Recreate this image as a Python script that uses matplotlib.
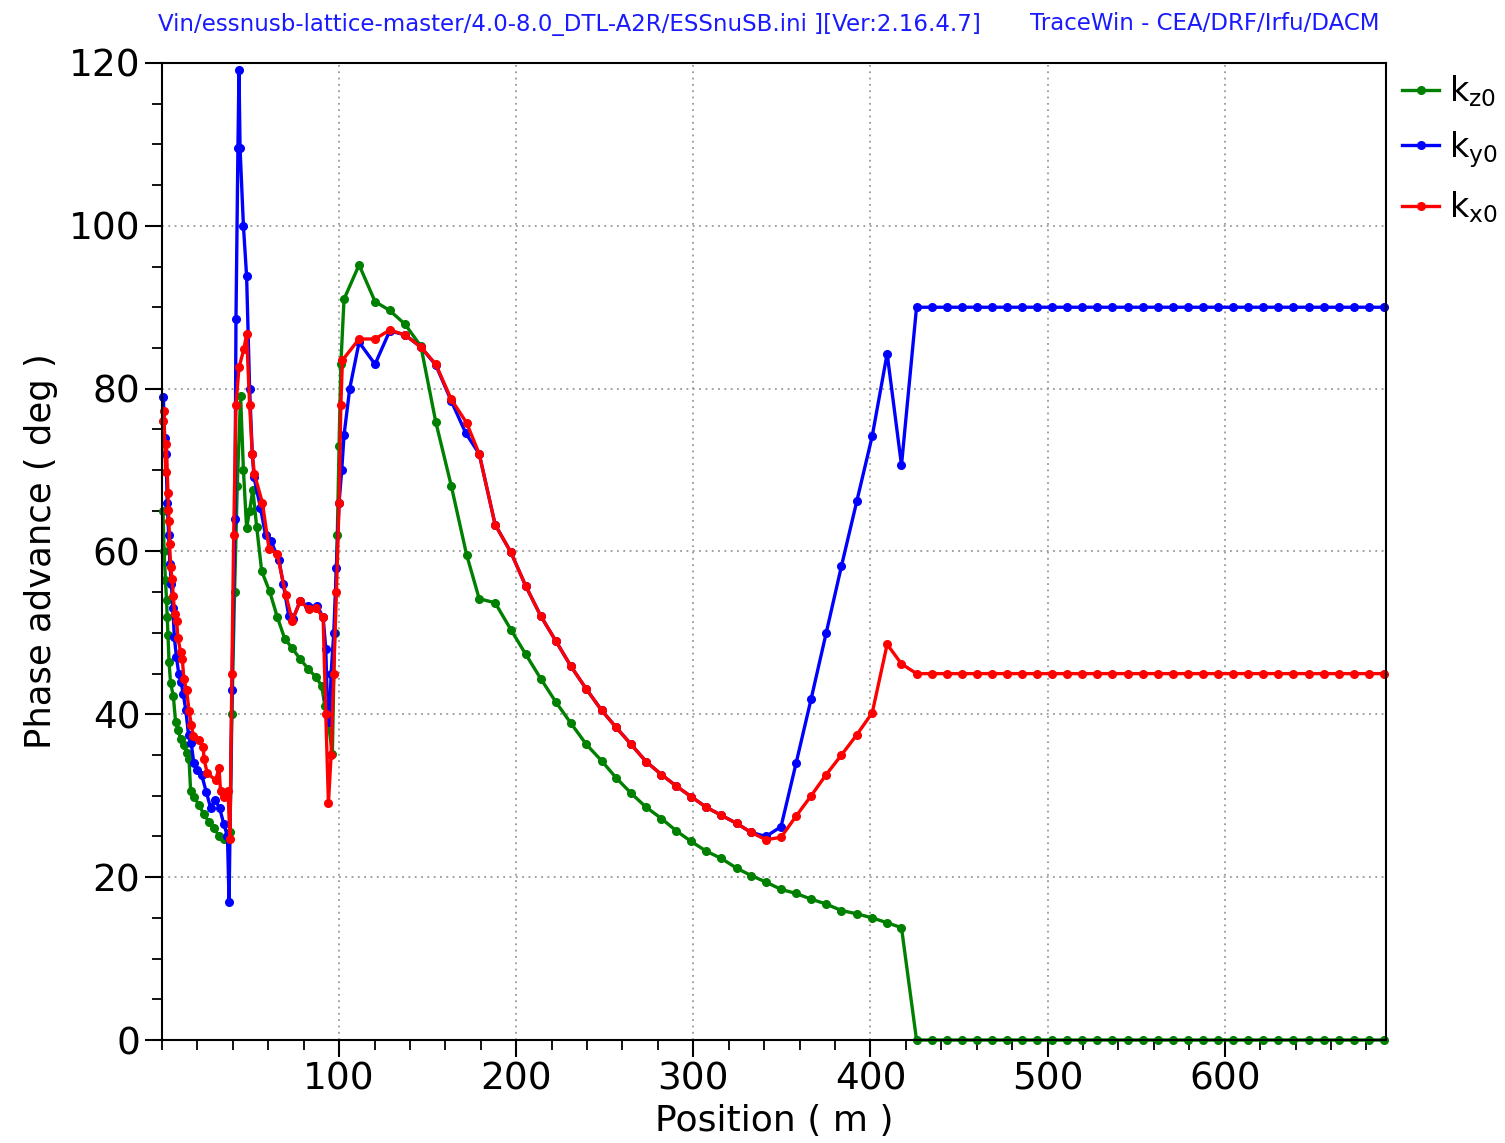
import matplotlib.pyplot as plt
from matplotlib.ticker import MultipleLocator, FixedLocator

# positions (m) shared by the three curves after ~197 m
x_desc = [197.0, 205.3, 213.8, 222.4, 230.9, 239.6, 248.2, 256.4, 264.9, 273.3,
          282.0, 290.3, 298.7, 307.2, 315.8, 324.5, 332.6, 341.0, 349.5, 358.0,
          366.5, 375.0, 383.6, 392.3, 401.0, 409.4, 417.5]
x_tail = [426.0, 434.5, 443.0, 451.5, 460.0, 468.5, 477.1, 485.6, 494.1, 502.6,
          511.1, 519.6, 528.1, 536.6, 545.1, 553.7, 562.2, 570.7, 579.2, 587.7,
          596.2, 604.7, 613.2, 621.7, 630.3, 638.8, 647.3, 655.8, 664.3, 672.8,
          681.3, 689.8]

# kz0 (green)
x_kz_head = [0.6, 1.2, 2.0, 2.6, 3.0, 3.4, 4.0, 4.9, 6.4, 7.7, 9.0, 10.5, 12.4,
             13.9, 15.3, 16.2, 18.1, 20.9, 23.7, 26.6, 29.4, 32.2, 35.0, 38.4,
             39.5, 41.0, 42.5, 44.4, 46.0, 47.8, 49.5, 51.3, 53.5, 56.3, 60.8,
             65.2, 69.3, 73.6, 78.0, 82.5, 86.8, 90.2, 92.0, 93.5, 96.2, 97.5,
             99.0, 100.0, 101.0, 102.8, 111.3, 120.3, 128.6, 137.3, 146.2, 154.6,
             163.3, 172.0, 179.1, 188.1]
y_kz_head = [65.0, 60.0, 56.5, 54.0, 51.9, 49.8, 46.4, 43.8, 42.3, 39.1, 38.1,
             37.0, 36.2, 35.3, 34.5, 30.6, 29.8, 28.9, 27.7, 26.8, 26.0, 25.1,
             24.7, 25.5, 40.0, 55.0, 68.0, 79.1, 70.0, 62.9, 65.0, 67.6, 63.0,
             57.6, 55.1, 51.9, 49.3, 48.1, 46.8, 45.6, 44.6, 43.5, 41.0, 39.8,
             35.1, 50.0, 62.0, 73.0, 83.0, 91.0, 95.2, 90.7, 89.6, 87.9, 85.2,
             75.9, 68.1, 59.6, 54.2, 53.7]
y_kz_desc = [50.4, 47.4, 44.4, 41.5, 38.9, 36.3, 34.3, 32.2, 30.3, 28.6, 27.2,
             25.7, 24.4, 23.2, 22.3, 21.1, 20.2, 19.4, 18.5, 18.0, 17.3, 16.7,
             15.9, 15.5, 15.0, 14.4, 13.8]
kz_tail = 0.0

# ky0 (blue)
x_ky_head = [0.8, 1.5, 2.3, 3.0, 3.8, 4.5, 5.3, 6.2, 7.0, 8.2, 9.5, 10.8, 12.0,
             13.5, 15.0, 16.5, 18.0, 20.0, 22.5, 25.0, 27.5, 30.0, 32.5, 35.0,
             37.0, 37.9, 39.5, 41.2, 41.8, 42.9, 43.5, 44.1, 46.0, 47.8, 49.5,
             51.0, 52.0, 55.6, 58.5, 61.5, 66.0, 68.5, 71.6, 73.9, 78.0, 82.2,
             87.7, 91.0, 92.5, 93.3, 94.5, 95.5, 97.0, 98.5, 100.0, 101.5, 102.8,
             106.0, 111.3, 120.3, 128.6, 137.3, 146.2, 154.6, 163.3, 171.6, 179.1,
             188.1]
y_ky_head = [79.0, 74.0, 72.0, 66.0, 62.0, 58.5, 56.0, 53.0, 49.5, 47.0, 45.0,
             44.0, 42.5, 40.5, 37.5, 36.5, 34.0, 33.2, 32.5, 30.5, 28.5, 29.5,
             28.5, 26.5, 25.0, 17.0, 43.0, 64.0, 88.6, 109.5, 119.1, 109.5, 100.0,
             93.8, 80.0, 72.0, 69.1, 65.4, 62.0, 61.3, 59.0, 56.0, 52.1, 51.7,
             53.9, 53.3, 53.3, 51.9, 48.0, 42.0, 39.0, 45.0, 50.0, 58.0, 66.0,
             70.0, 74.3, 80.0, 85.7, 83.0, 87.1, 86.6, 85.1, 82.9, 78.5, 74.5,
             72.0, 63.3]
y_ky_desc = [59.9, 55.8, 52.1, 49.0, 45.9, 43.1, 40.5, 38.4, 36.3, 34.2, 32.6,
             31.2, 29.9, 28.6, 27.6, 26.6, 25.5, 25.0, 26.2, 34.0, 41.9, 50.0,
             58.2, 66.2, 74.2, 84.3, 70.6]
ky_tail = 90.0

# kx0 (red)
x_kx_head = [0.6, 1.1, 2.1, 2.5, 3.4, 3.7, 3.95, 4.3, 4.9, 5.8, 6.4, 7.2, 8.3,
             9.0, 10.5, 11.5, 12.4, 13.9, 15.3, 16.6, 17.7, 20.9, 23.4, 23.7,
             25.6, 30.3, 32.2, 33.1, 35.0, 37.3, 38.4, 39.5, 40.5, 41.8, 43.5,
             46.3, 47.8, 49.5, 51.0, 52.2, 56.7, 60.5, 65.1, 69.9, 73.6, 78.0,
             83.1, 86.8, 91.0, 92.5, 94.0, 95.5, 97.0, 98.5, 100.0, 101.0, 101.9,
             111.3, 120.3, 128.6, 137.3, 146.2, 154.6, 163.3, 172.0, 179.1, 188.1]
y_kx_head = [76.0, 77.2, 69.8, 73.2, 67.2, 65.1, 63.8, 60.9, 58.1, 56.6, 54.5,
             52.3, 51.5, 49.4, 47.7, 46.8, 44.3, 43.0, 40.4, 38.7, 37.4, 36.8,
             36.0, 34.5, 32.8, 31.9, 33.4, 30.6, 29.8, 30.6, 24.7, 45.0, 62.0,
             78.0, 82.6, 84.9, 86.7, 78.0, 72.0, 69.5, 66.0, 60.3, 59.7, 54.7,
             51.5, 53.9, 52.9, 53.1, 51.9, 40.0, 29.1, 35.0, 45.0, 55.0, 66.0,
             78.0, 83.5, 86.1, 86.1, 87.2, 86.6, 85.1, 83.0, 78.7, 75.8, 72.0,
             63.3]
y_kx_desc = [59.9, 55.8, 52.1, 49.0, 45.9, 43.1, 40.5, 38.4, 36.3, 34.2, 32.6,
             31.2, 29.9, 28.6, 27.6, 26.6, 25.5, 24.6, 24.9, 27.5, 30.0, 32.6,
             35.0, 37.5, 40.2, 48.6, 46.2]
kx_tail = 45.0

title_left = "Vin/essnusb-lattice-master/4.0-8.0_DTL-A2R/ESSnuSB.ini ][Ver:2.16.4.7]"
title_right = "TraceWin - CEA/DRF/Irfu/DACM"

fig = plt.figure(figsize=(15.05, 11.43), dpi=100)
ax = fig.add_axes([0.1076, 0.0901, 0.8133, 0.8548])

series = [
    (x_kz_head + x_desc + x_tail, y_kz_head + y_kz_desc + [kz_tail] * len(x_tail), "green", r"$\mathregular{k_{z0}}$"),
    (x_ky_head + x_desc + x_tail, y_ky_head + y_ky_desc + [ky_tail] * len(x_tail), "blue", r"$\mathregular{k_{y0}}$"),
    (x_kx_head + x_desc + x_tail, y_kx_head + y_kx_desc + [kx_tail] * len(x_tail), "red", r"$\mathregular{k_{x0}}$"),
]
for xs, ys, c, lab in series:
    ax.plot(xs, ys, color=c, lw=2.4, marker="o", ms=5.5, label=lab, clip_on=False)

ax.set_xlim(0, 691)
ax.set_ylim(0, 120)
ax.xaxis.set_major_locator(FixedLocator([100, 200, 300, 400, 500, 600]))
ax.xaxis.set_minor_locator(MultipleLocator(20))
ax.yaxis.set_major_locator(MultipleLocator(20))
ax.yaxis.set_minor_locator(MultipleLocator(5))
ax.tick_params(which="major", direction="out", length=12, width=1.5, labelsize=27)
ax.tick_params(which="minor", direction="out", length=7, width=1.3)
ax.grid(True, which="major", color="#999999", linestyle=(0, (1, 2.5)), lw=1.3)
for sp in ax.spines.values():
    sp.set_linewidth(1.5)

ax.set_xlabel("Position ( m )", fontsize=26, labelpad=5)
ax.set_ylabel("Phase advance ( deg )", fontsize=25.5, labelpad=8)

ax.legend(loc="upper left", bbox_to_anchor=(0.997, 1.01), frameon=False,
          fontsize=24, handlelength=1.1, handletextpad=0.3, labelspacing=0.6,
          borderaxespad=0.2)

fig.text(158 / 1505, 1 - 24 / 1143, title_left, color="#1a1aff", fontsize=16.5,
         va="center", ha="left")
fig.text(1030 / 1505, 1 - 24 / 1143, title_right, color="#1a1aff", fontsize=16.5,
         va="center", ha="left")

fig.savefig("out.png", dpi=100)
